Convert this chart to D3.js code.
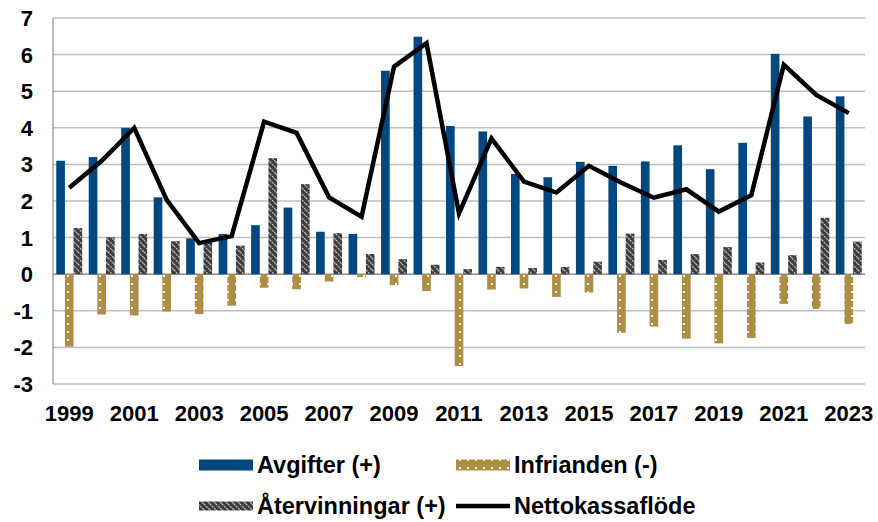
<!DOCTYPE html>
<html>
<head>
<meta charset="utf-8">
<script src="https://cdn.jsdelivr.net/npm/d3@7"></script>
<style>
  body { margin: 0; background: white; }
  text { font-family: "Liberation Sans", Arial, sans-serif; font-weight: bold; fill: black; }
</style>
</head>
<body>
<div id="container"></div>
<script>
let w = 878;
let h = 522;

// DATA (miljarder kr)
let years = ["1999","2000","2001","2002","2003","2004","2005","2006","2007","2008","2009","2010","2011",
             "2012","2013","2014","2015","2016","2017","2018","2019","2020","2021","2022","2023"];
let avgifter = [3.1, 3.2, 4.0, 2.1, 0.98, 1.1, 1.34, 1.82, 1.16, 1.1, 5.56, 6.49, 4.05,
                3.9, 2.74, 2.65, 3.07, 2.96, 3.08, 3.52, 2.87, 3.59, 6.02, 4.31, 4.86];
let infrianden = [-1.98, -1.1, -1.13, -1.02, -1.09, -0.86, -0.37, -0.41, -0.2, -0.08, -0.3, -0.46, -2.51,
                  -0.42, -0.39, -0.62, -0.5, -1.6, -1.43, -1.76, -1.89, -1.74, -0.81, -0.95, -1.36];
let atervinningar = [1.26, 1.01, 1.1, 0.9, 0.9, 0.78, 3.17, 2.46, 1.12, 0.55, 0.41, 0.26, 0.14,
                     0.2, 0.17, 0.2, 0.34, 1.11, 0.39, 0.55, 0.74, 0.32, 0.52, 1.54, 0.89];
let netto = [2.36, 3.1, 4.0, 2.03, 0.85, 1.04, 4.17, 3.86, 2.1, 1.57, 5.67, 6.31, 1.66,
             3.71, 2.53, 2.23, 2.96, 2.5, 2.09, 2.32, 1.71, 2.16, 5.72, 4.9, 4.4];
let yTicks = [-3, -2, -1, 0, 1, 2, 3, 4, 5, 6, 7];
let xLabels = ["1999","2001","2003","2005","2007","2009","2011","2013","2015","2017","2019","2021","2023"];

let seriesKeys = ["avg", "inf", "ater"];
let seriesNames = {avg: "Avgifter (+)", inf: "Infrianden (-)", ater: "Återvinningar (+)"};
let seriesValues = {avg: avgifter, inf: infrianden, ater: atervinningar};

let plotLeft = 53, plotRight = 865, plotTop = 18, plotBottom = 384;

let viz = d3.select("#container").append("svg")
    .attr("width", w)
    .attr("height", h)
    .style("background-color", "white");

// PATTERNS
let defs = viz.append("defs");

let dots = defs.append("pattern")
    .attr("id", "dots")
    .attr("patternUnits", "userSpaceOnUse")
    .attr("width", 8).attr("height", 8);
dots.append("rect").attr("width", 8).attr("height", 8).attr("fill", "#ad8e46");
dots.append("rect").attr("x", 3).attr("y", 3).attr("width", 2).attr("height", 2).attr("fill", "#f4eedf");

let hatch = defs.append("pattern")
    .attr("id", "hatch")
    .attr("patternUnits", "userSpaceOnUse")
    .attr("width", 6).attr("height", 6);
hatch.append("rect").attr("width", 6).attr("height", 6).attr("fill", "#3f3f3f");
hatch.append("path").attr("d", "M0,0 L6,6 M-1,5 L1,7 M5,-1 L7,1")
    .attr("stroke", "#c8c8c8").attr("stroke-width", 1.1).attr("stroke-dasharray", "2,1");

let fills = {avg: "#00487f", inf: "url(#dots)", ater: "url(#hatch)"};

// SCALES
let x = d3.scaleBand().domain(years).range([plotLeft, plotRight]).paddingInner(0).paddingOuter(0);
let xSub = d3.scaleBand().domain(seriesKeys).range([0, x.bandwidth()]).paddingInner(0).paddingOuter(0.375);
let y = d3.scaleLinear().domain([-3, 7]).range([plotBottom, plotTop]);

// GRID
viz.append("g").selectAll("line").data(yTicks).enter()
  .append("line")
    .attr("x1", plotLeft).attr("x2", plotRight)
    .attr("y1", d => y(d)).attr("y2", d => y(d))
    .attr("stroke", d => d == 0 ? "#8c8c8c" : "#bfbfbf")
    .attr("stroke-width", 1.5);

viz.append("line")
    .attr("x1", plotLeft).attr("x2", plotLeft)
    .attr("y1", plotTop).attr("y2", plotBottom)
    .attr("stroke", "#a6a6a6").attr("stroke-width", 1.5);

// Y LABELS
viz.append("g").selectAll("text").data(yTicks).enter()
  .append("text")
    .attr("x", 33)
    .attr("y", d => y(d))
    .attr("dy", "0.36em")
    .attr("text-anchor", "end")
    .style("font-size", "22px")
    .text(d => d);

// X LABELS
viz.append("g").selectAll("text").data(xLabels).enter()
  .append("text")
    .attr("x", d => x(d) + x.bandwidth() / 2)
    .attr("y", 421)
    .attr("text-anchor", "middle")
    .style("font-size", "22px")
    .text(d => d);

// BARS
let barGroups = viz.append("g").selectAll("g").data(seriesKeys).enter().append("g");
barGroups.selectAll("rect")
  .data(function(k){
    return years.map(function(yr, i){ return {key: k, year: yr, value: seriesValues[k][i]}; });
  })
  .enter()
  .append("rect")
    .attr("x", d => x(d.year) + xSub(d.key))
    .attr("width", xSub.bandwidth())
    .attr("y", d => y(Math.max(0, d.value)))
    .attr("height", d => Math.abs(y(d.value) - y(0)))
    .attr("fill", d => fills[d.key]);

// LINE
let lineMaker = d3.line()
    .x((d, i) => x(years[i]) + x.bandwidth() / 2)
    .y(d => y(d));

viz.append("path")
    .datum(netto)
    .attr("d", lineMaker)
    .attr("fill", "none")
    .attr("stroke", "black")
    .attr("stroke-width", 4.5)
    .attr("stroke-linejoin", "miter");

// LEGEND
let legendItems = [
  {key: "avg", sx: 199, tx: 257, cy: 465},
  {key: "inf", sx: 456, tx: 514, cy: 465},
  {key: "ater", sx: 199, tx: 257, cy: 506},
  {key: "net", sx: 456, tx: 514, cy: 506}
];
let legend = viz.append("g");
legendItems.forEach(function(it){
  if (it.key == "net") {
    legend.append("line")
      .attr("x1", it.sx).attr("x2", it.sx + 54)
      .attr("y1", it.cy).attr("y2", it.cy)
      .attr("stroke", "black").attr("stroke-width", 4.5);
  } else {
    let sh = it.key == "ater" ? 9 : 11;
    legend.append("rect")
      .attr("x", it.sx).attr("y", it.cy - sh / 2)
      .attr("width", 54).attr("height", sh)
      .attr("fill", fills[it.key]);
  }
  legend.append("text")
    .attr("x", it.tx).attr("y", it.cy)
    .attr("dy", "0.36em")
    .style("font-size", "23.5px")
    .text(it.key == "net" ? "Nettokassaflöde" : seriesNames[it.key]);
});
</script>
</body>
</html>
